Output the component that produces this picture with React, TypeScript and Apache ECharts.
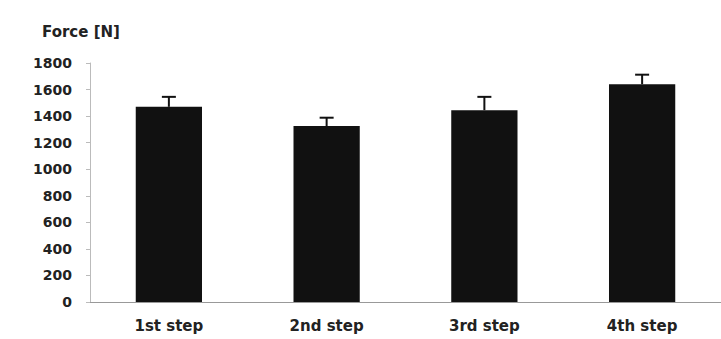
import React, { useEffect, useRef } from "react";
import * as echarts from "echarts";

const categories = ["1st step", "2nd step", "3rd step", "4th step"];
const forceMeans = [1470, 1325, 1445, 1640];
const forceErrors = [75, 63, 100, 72];
const yTicks = [0, 200, 400, 600, 800, 1000, 1200, 1400, 1600, 1800];

export default function App() {
  const ref = useRef<HTMLDivElement>(null);
  useEffect(() => {
    document.body.style.margin = "0";
    if (!ref.current) return;
    const chart = echarts.init(ref.current, null, { renderer: "svg" });
    const font = "'DejaVu Sans', 'Liberation Sans', Arial, sans-serif";
    const errorData = categories.map((c, i) => [i, forceMeans[i], forceErrors[i]]);
    chart.setOption({
      animation: false,
      backgroundColor: "#ffffff",
      title: {
        text: "Force [N]",
        left: 37,
        top: 19,
        textStyle: { fontFamily: font, fontSize: 15, fontWeight: "bold", color: "#222" },
      },
      grid: { left: 90, right: 0, top: 63, bottom: 37 },
      xAxis: {
        type: "category",
        data: categories,
        axisLine: { show: true, lineStyle: { color: "#999", width: 1 } },
        axisTick: { show: false },
        axisLabel: {
          margin: 16,
          fontFamily: font,
          fontSize: 15,
          fontWeight: "bold",
          color: "#222",
        },
      },
      yAxis: {
        type: "value",
        min: yTicks[0],
        max: yTicks[yTicks.length - 1],
        interval: 200,
        axisLine: { show: true, lineStyle: { color: "#bbb", width: 1 } },
        axisTick: { show: true, length: 4, lineStyle: { color: "#bbb" } },
        splitLine: { show: false },
        axisLabel: {
          margin: 18,
          fontFamily: font,
          fontSize: 14,
          fontWeight: "bold",
          color: "#222",
          formatter: (v: number) => String(v),
        },
      },
      series: [
        {
          type: "bar",
          data: forceMeans,
          barWidth: "42%",
          itemStyle: { color: "#111" },
        },
        {
          type: "custom",
          data: errorData,
          z: 5,
          renderItem: (params: any, api: any) => {
            const idx = api.value(0);
            const mean = api.value(1);
            const err = api.value(2);
            const base = api.coord([idx, mean]);
            const top = api.coord([idx, mean + err]);
            const half = 7;
            return {
              type: "group",
              children: [
                {
                  type: "line",
                  shape: { x1: base[0], y1: base[1], x2: top[0], y2: top[1] },
                  style: { stroke: "#111", lineWidth: 2 },
                },
                {
                  type: "line",
                  shape: { x1: top[0] - half, y1: top[1], x2: top[0] + half, y2: top[1] },
                  style: { stroke: "#111", lineWidth: 2 },
                },
              ],
            };
          },
        },
      ],
    });
    return () => chart.dispose();
  }, []);
  return <div ref={ref} style={{ width: 721, height: 339 }} />;
}
